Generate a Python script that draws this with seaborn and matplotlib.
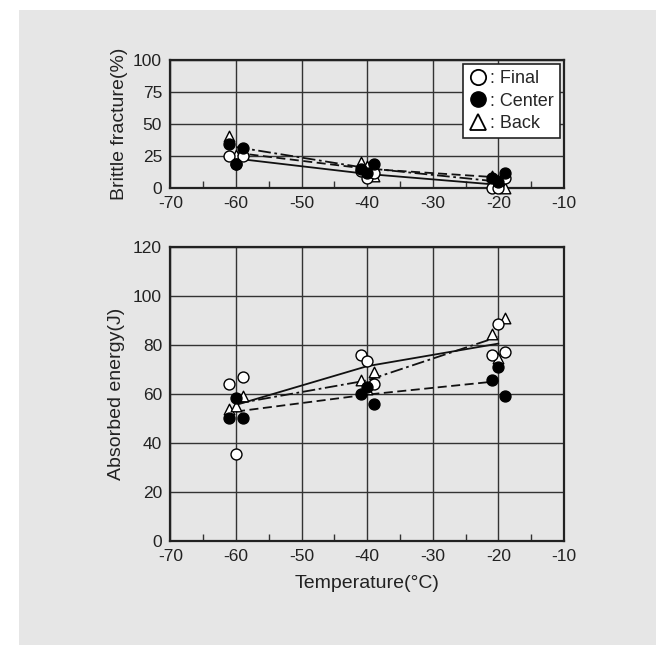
import matplotlib
matplotlib.use("Agg")
import matplotlib.pyplot as plt
from matplotlib.patches import Rectangle
from matplotlib.lines import Line2D
from matplotlib.ticker import MultipleLocator
import seaborn as sns
import pandas as pd

# ---- data ----
temps = [-61, -60, -59, -41, -40, -39, -21, -20, -19]
line_temps = [-60, -40, -20]

final_bf = [25, 19, 25, 13, 8, 12, 0, 0, 7.5]
center_bf = [34, 18.5, 31, 14.5, 12, 18.5, 8, 5, 12]
back_bf = [41, 26, 30, 20, 17.5, 9, 9, 6, 0]

final_bf_line = [23, 11, 2.5]
center_bf_line = [27.5, 15, 8.3]
back_bf_line = [32, 15.5, 5]

final_ae = [64, 35.5, 67, 76, 73.3, 64, 76, 88.5, 77]
center_ae = [50, 58.5, 50, 60, 63, 56, 65.5, 71, 59]
back_ae = [54, 55, 59, 65.5, 62, 69, 84.5, 74.5, 91]

final_ae_line = [55.5, 71.3, 80.5]
center_ae_line = [52.8, 59.7, 65.2]
back_ae_line = [56, 65.5, 83.3]

x_ticks = [-70, -60, -50, -40, -30, -20, -10]
bf_ticks = [0, 25, 50, 75, 100]
ae_ticks = [0, 20, 40, 60, 80, 100, 120]

series_names = ["Final", "Center", "Back"]

sns.set_theme(style="white")
plt.rcParams['font.family'] = ['Liberation Sans', 'DejaVu Sans']
plt.rcParams['axes.unicode_minus'] = False

BG = "#e6e6e6"
fig = plt.figure(figsize=(6.56, 6.45), dpi=100, facecolor="white")
fig.patches.append(Rectangle((19 / 656, 0), 1 - 19 / 656, 1 - 10 / 645,
                             transform=fig.transFigure, facecolor=BG,
                             edgecolor="none", zorder=-10))

ax1 = fig.add_axes([0.2598, 0.7085, 0.6, 0.1985])
ax2 = fig.add_axes([0.2598, 0.1612, 0.6, 0.4563])

marker_styles = {
    "Final": dict(marker="o", facecolor="white", edgecolor="black"),
    "Center": dict(marker="o", facecolor="black", edgecolor="black"),
    "Back": dict(marker="^", facecolor="white", edgecolor="black"),
}
line_styles = {"Final": "-", "Center": (0, (5, 2.5)), "Back": (0, (7, 2, 1.5, 2))}


def draw(ax, pts, lines):
    for name in series_names:
        ldf = pd.DataFrame({"T": line_temps, "v": lines[name]})
        sns.lineplot(data=ldf, x="T", y="v", ax=ax, color="#111111",
                     linestyle=line_styles[name], linewidth=1.3, zorder=3)
    for name in ["Back", "Final", "Center"]:
        pdf = pd.DataFrame({"T": temps, "v": pts[name]})
        st = marker_styles[name]
        sns.scatterplot(data=pdf, x="T", y="v", ax=ax, marker=st["marker"],
                        color=st["facecolor"], edgecolor=st["edgecolor"],
                        linewidth=1.0, s=62 if st["marker"] == "o" else 58,
                        zorder=4, clip_on=False)


draw(ax1, {"Final": final_bf, "Center": center_bf, "Back": back_bf},
     {"Final": final_bf_line, "Center": center_bf_line, "Back": back_bf_line})
draw(ax2, {"Final": final_ae, "Center": center_ae, "Back": back_ae},
     {"Final": final_ae_line, "Center": center_ae_line, "Back": back_ae_line})

for ax, yt in ((ax1, bf_ticks), (ax2, ae_ticks)):
    ax.set_facecolor(BG)
    ax.set_xlim(x_ticks[0], x_ticks[-1])
    ax.set_ylim(yt[0], yt[-1])
    ax.set_xticks(x_ticks)
    ax.set_yticks(yt)
    ax.xaxis.set_minor_locator(MultipleLocator(5))
    ax.grid(True, which="major", color="#333333", linewidth=1.0)
    ax.tick_params(axis="both", which="major", length=0, labelsize=12.5,
                   colors="#222222", pad=6)
    ax.tick_params(axis="x", which="minor", direction="in", length=5,
                   width=1, color="#333333", bottom=True)
    for s in ax.spines.values():
        s.set_visible(True)
        s.set_color("#222222")
        s.set_linewidth(1.6)
    ax.set_axisbelow(True)

ax1.set_xlabel("")
ax1.set_ylabel("Brittle fracture(%)", fontsize=14, color="#222222", labelpad=4)
ax2.set_xlabel("Temperature(°C)", fontsize=14, color="#222222", labelpad=8)
ax2.set_ylabel("Absorbed energy(J)", fontsize=14, color="#222222", labelpad=6)

handles = [
    Line2D([], [], linestyle="none", marker="o", markersize=11,
           markerfacecolor="white", markeredgecolor="black", markeredgewidth=1.3),
    Line2D([], [], linestyle="none", marker="o", markersize=11,
           markerfacecolor="black", markeredgecolor="black"),
    Line2D([], [], linestyle="none", marker="^", markersize=12,
           markerfacecolor="white", markeredgecolor="black", markeredgewidth=1.3),
]
leg = ax1.legend(handles, [": " + n for n in series_names], loc="upper right",
                 bbox_to_anchor=(0.99, 0.97), fontsize=13,
                 frameon=True, fancybox=False, framealpha=1, facecolor="white",
                 edgecolor="#222222", handletextpad=0.15, handlelength=1.0,
                 labelspacing=0.3, borderpad=0.35, borderaxespad=0)
leg.get_frame().set_linewidth(1.2)
leg.set_zorder(10)

fig.savefig("out.png", dpi=100, facecolor="white")
